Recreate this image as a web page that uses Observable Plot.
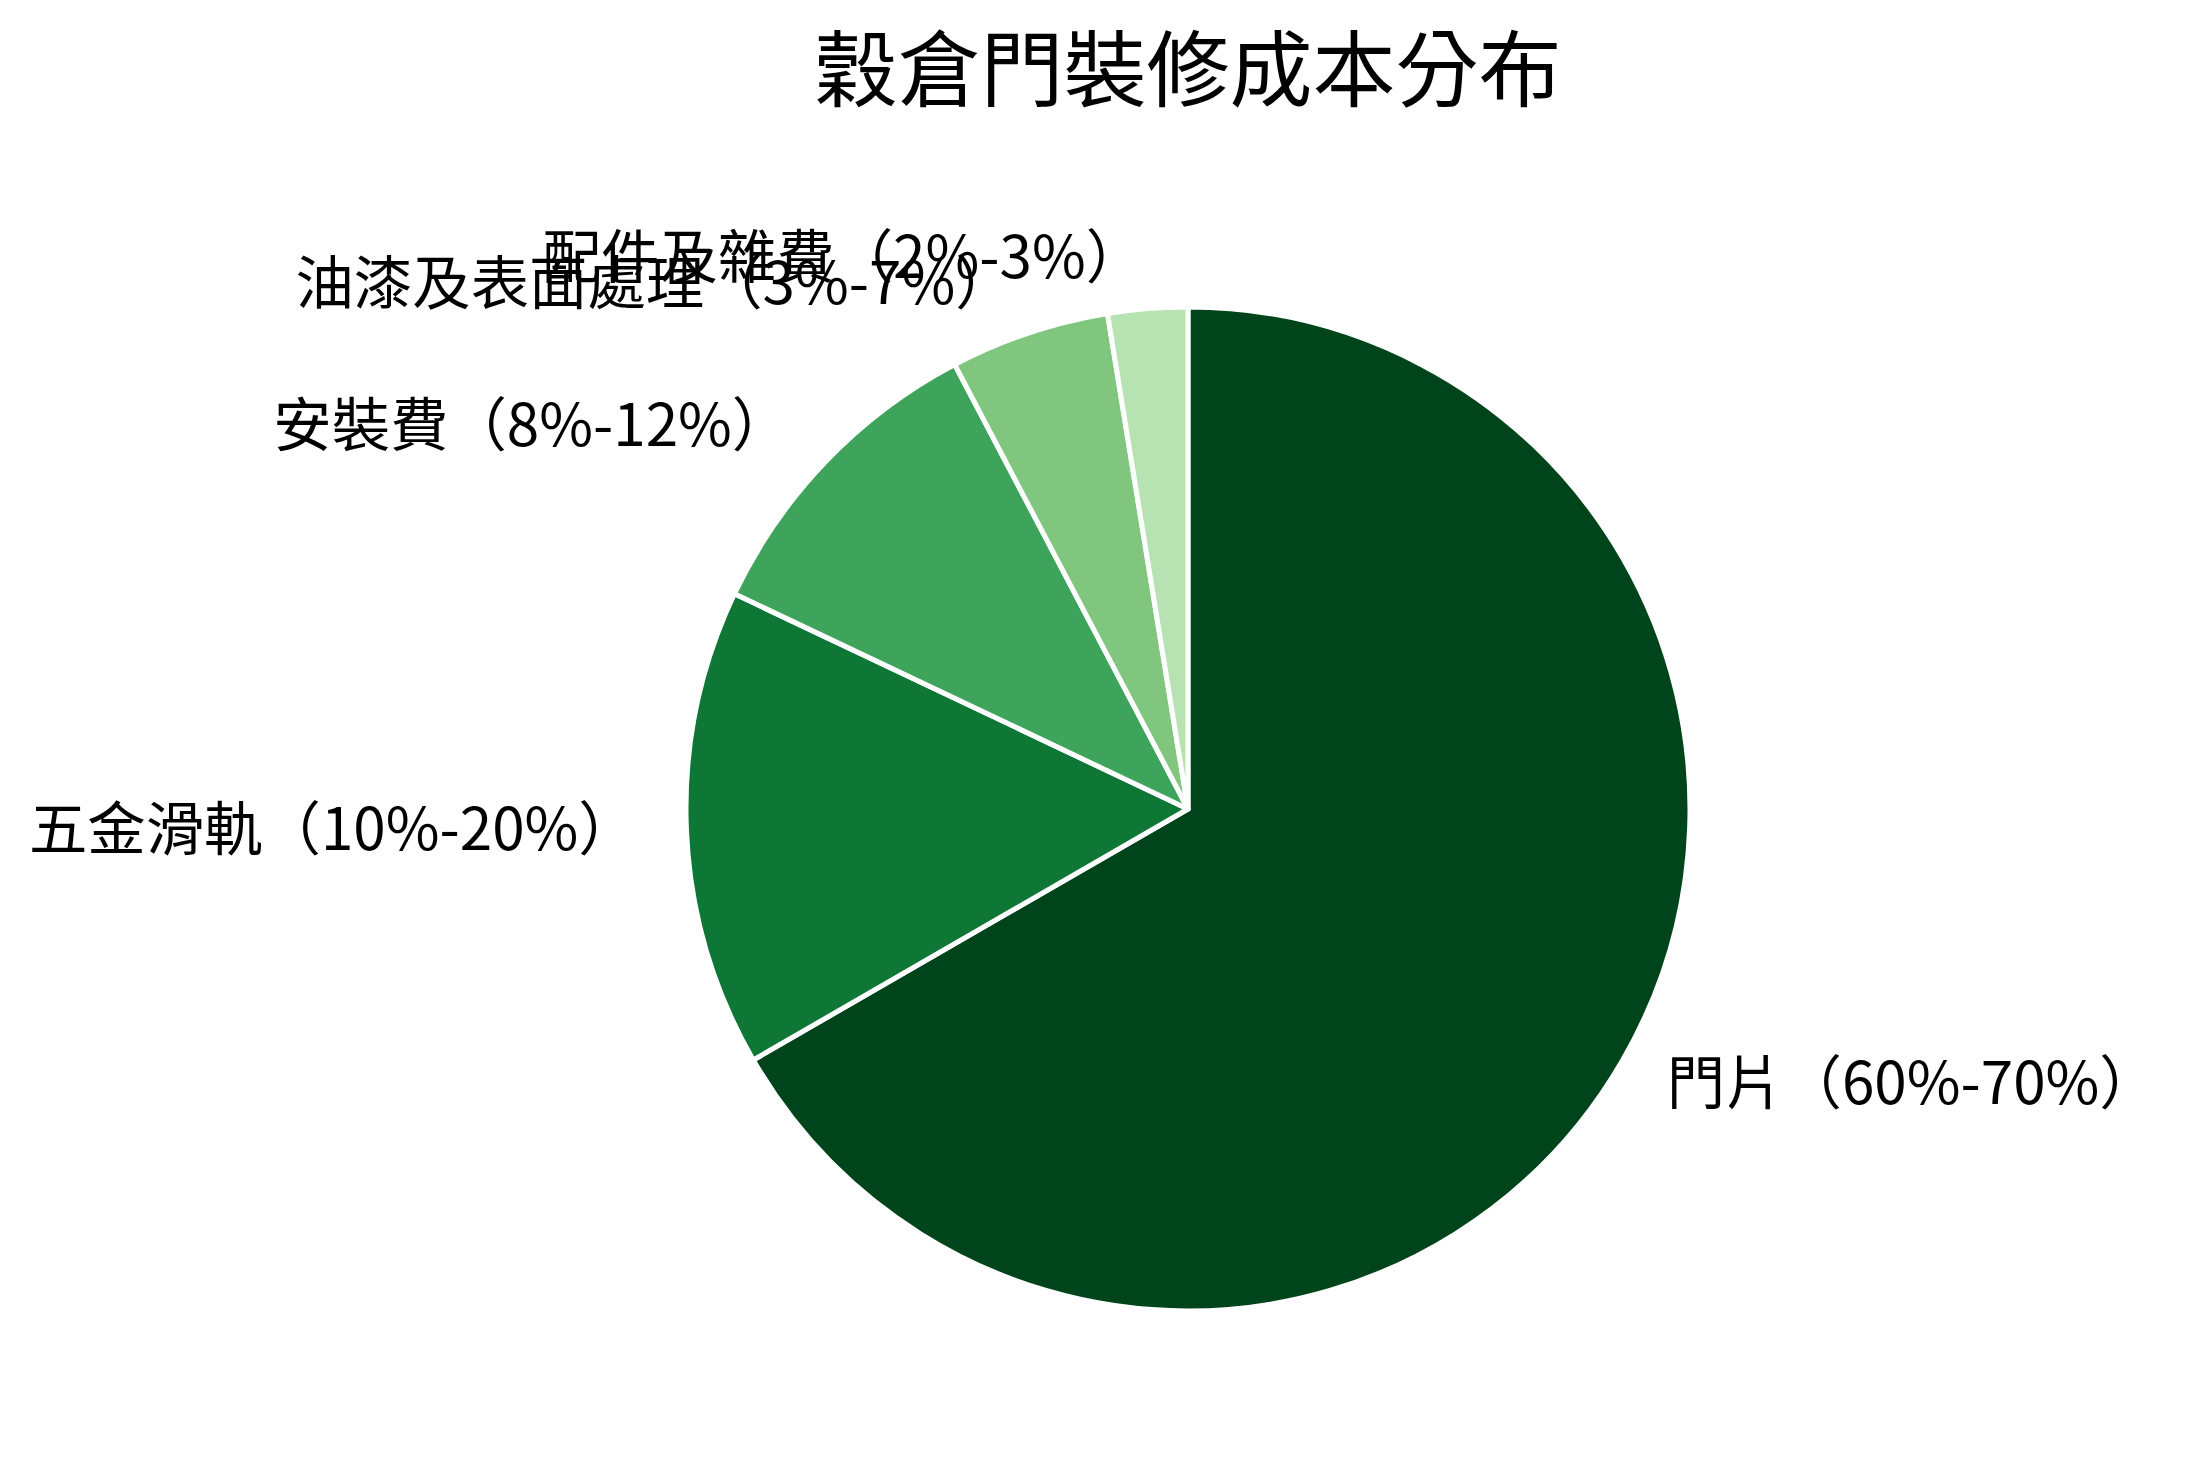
<!DOCTYPE html>
<html>
<head>
<meta charset="utf-8">
<script src="https://cdn.jsdelivr.net/npm/d3@7"></script>
<script src="https://cdn.jsdelivr.net/npm/@observablehq/plot@0.6"></script>
<style>
  html, body { margin: 0; padding: 0; background: #fff; }
  #wrap { position: relative; width: 2189px; height: 1468px; overflow: hidden; }
  #title { position: absolute; left: 1188px; top: -6px; transform: translateX(-50%);
    height: 140px; line-height: 140px; font-size: 83px; white-space: nowrap;
    font-family: "Noto Sans CJK TC", "Noto Sans CJK SC", sans-serif; color: #000; }
  #chart { position: absolute; left: 0; top: 130px; }
</style>
</head>
<body>
<div id="wrap">
  <div id="title">穀倉門裝修成本分布</div>
  <div id="chart"></div>
</div>
<script>
const categories = ["門片", "五金滑軌", "安裝費", "油漆及表面處理", "配件及雜費"];
const ranges = ["60%-70%", "10%-20%", "8%-12%", "3%-7%", "2%-3%"];
const values = [65, 15, 10, 5, 2.5];
const colors = ["#00441b", "#0e7735", "#3fa45b", "#80c67f", "#b7e2b1"];

const W = 2189, H = 1338;
const R = 502;
const data = categories.map((c, i) => ({category: c, range: ranges[i], value: values[i], color: colors[i]}));
const arcs = d3.pie().sort(null).value(d => d.value).startAngle(0).endAngle(2 * Math.PI)(data);
const labels = arcs.map(a => {
  const m = (a.startAngle + a.endAngle) / 2;
  return {x: 1.1 * Math.sin(m), y: 1.1 * Math.cos(m), text: a.data.category + "（" + a.data.range + "）"};
});

const xDomain = [-1188 / R, (W - 1188) / R];
const yDomain = [-(H - 679) / R, 679 / R];

function slices(index, scales, values, dimensions, context) {
  const sx = scales && scales.x ? scales.x : d3.scaleLinear(xDomain, [0, W]);
  const sy = scales && scales.y ? scales.y : d3.scaleLinear(yDomain, [H, 0]);
  const cx = sx(0), cy = sy(0), r = sx(1) - sx(0);
  const doc = (context && context.document) || document;
  const g = doc.createElementNS("http://www.w3.org/2000/svg", "g");
  g.setAttribute("transform", `translate(${cx},${cy})`);
  const arc = d3.arc().innerRadius(0).outerRadius(r);
  for (const a of arcs) {
    const p = doc.createElementNS("http://www.w3.org/2000/svg", "path");
    p.setAttribute("d", arc(a));
    p.setAttribute("fill", a.data.color);
    p.setAttribute("stroke", "#fff");
    p.setAttribute("stroke-width", 5);
    p.setAttribute("stroke-linejoin", "round");
    g.appendChild(p);
  }
  return g;
}

const textOpts = {x: "x", y: "y", text: "text", fontSize: 58.4, fill: "#000", lineAnchor: "middle",
  fontFamily: "Noto Sans CJK TC, Noto Sans CJK SC, sans-serif"};

const plot = Plot.plot({
  width: W, height: H,
  margin: 0,
  x: {domain: xDomain, axis: null},
  y: {domain: yDomain, axis: null},
  style: {background: "#fff", overflow: "visible"},
  marks: [
    slices,
    Plot.text(labels.filter(d => d.x >= 0), {...textOpts, textAnchor: "start"}),
    Plot.text(labels.filter(d => d.x < 0), {...textOpts, textAnchor: "end"})
  ]
});
document.getElementById("chart").appendChild(plot);
</script>
</body>
</html>
